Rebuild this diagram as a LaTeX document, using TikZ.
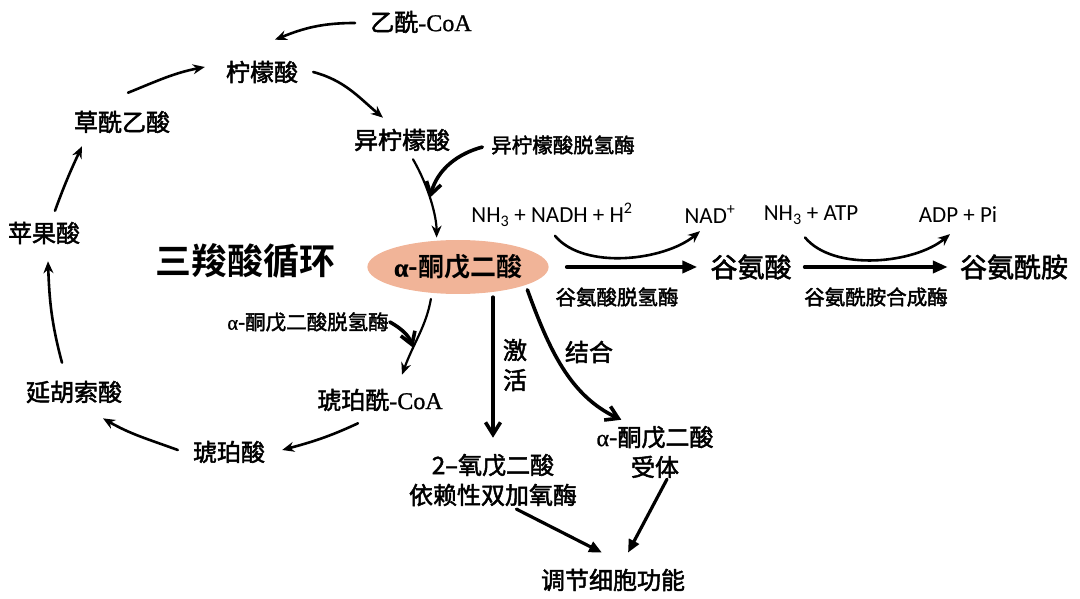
\documentclass[tikz,border=0pt]{standalone}
\usepackage{fontspec}
\usepackage{xcolor}
\usepackage{tikz}
\usetikzlibrary{arrows.meta,shapes.geometric}

\newfontfamily\cjk{Noto Sans CJK SC}[FakeBold=2]
\newfontfamily\cjkb{Noto Sans CJK SC Bold}
\newfontfamily\lat{Liberation Serif}[FakeBold=1]
\newfontfamily\chemfont{Carlito}
\definecolor{akgpink}{RGB}{241,180,152}

\begin{document}
\begin{tikzpicture}[x=1pt,y=1pt,line cap=round,
        every node/.style={inner sep=1pt,text=black,font=\cjk\fontsize{24}{30}\selectfont}]
    \tikzstyle{cycarrow}=[-{Stealth[length=12pt,width=10pt]},line width=2.6pt]
    \tikzstyle{enzarrow}=[-{Straight Barb[length=12pt,width=15pt]},line width=3.6pt]
    \tikzstyle{bigarrow}=[-{Triangle[length=15pt,width=12pt]},line width=3.8pt]
    \tikzstyle{sidearrow}=[-{Triangle[length=13pt,width=11pt]},line width=3.2pt]
    \tikzstyle{enzyme}=[font=\cjk\fontsize{20.5}{24}\selectfont]
    \tikzstyle{chem}=[font=\chemfont\fontsize{23}{26}\selectfont]

    \useasboundingbox (0,0) rectangle (1080,598);

    % TCA cycle
    \node (acoa) at (421,576) {乙酰{\lat -CoA}};
    \node (cit) at (262,526) {柠檬酸};
    \node (oaa) at (122,476) {草酰乙酸};
    \node (icit) at (402,458) {异柠檬酸};
    \node[enzyme] (idh) at (563,453) {异柠檬酸脱氢酶};
    \node (mal) at (44,365) {苹果酸};
    \node[font=\cjkb\fontsize{36}{40}\selectfont] (tca) at (245,337) {三羧酸循环};
    \node[ellipse,fill=akgpink,minimum width=154pt,minimum height=54pt,inner sep=0pt,
          font=\cjkb\fontsize{26}{30}\selectfont] (akg) at (458,331) {{\lat\bfseries α}-酮戊二酸};
    \node[enzyme] (kgdh) at (308,276) {{\lat α}-酮戊二酸脱氢酶};
    \node (scoa) at (380,198) {琥珀酰{\lat -CoA}};
    \node (fum) at (74,206) {延胡索酸};
    \node (suc) at (229,146) {琥珀酸};

    % glutamate / glutamine
    \node[chem] (nh3a) at (552,383) {NH\textsubscript{3} + NADH + H\textsuperscript{2}};
    \node[chem] (nad) at (710,383) {NAD\textsuperscript{+}};
    \node[chem] (nh3b) at (811,383) {NH\textsubscript{3} + ATP};
    \node[chem] (adp) at (958,383) {ADP + Pi};
    \node[font=\cjk\fontsize{27}{30}\selectfont] (glu) at (751,331) {谷氨酸};
    \node[font=\cjk\fontsize{27}{30}\selectfont] (gln) at (1014,331) {谷氨酰胺};
    \node[enzyme] (gdh) at (617,301) {谷氨酸脱氢酶};
    \node[enzyme] (gs) at (876,301) {谷氨酰胺合成酶};

    % signalling
    \node[align=center] (act) at (515,233) {激\\活};
    \node (bind) at (589,246) {结合};
    \node[align=center] (diox) at (493,118) {2–氧戊二酸\\依赖性双加氧酶};
    \node[align=center] (rec) at (655,146) {{\lat α}-酮戊二酸\\受体};
    \node (reg) at (613,18) {调节细胞功能};

    \draw[cycarrow] ([shift={(-14,-1)}]acoa.west) to[out=180,in=22] ([shift={(13,20)}]cit.north);
    \draw[cycarrow] ([shift={(6,17)}]oaa.north) to[out=22,in=191] ([shift={(-20,5)}]cit.west);
    \draw[cycarrow] ([shift={(14,0)}]cit.east) to[out=-15,in=140] ([shift={(-19,10)}]icit.north);
    \draw[cycarrow,line width=2.2pt,shorten >=3pt] ([shift={(11,-7)}]icit.south)
        to[out=-60,in=90,in looseness=0.7] coordinate[pos=0.45] (idhin) (akg.129);
    \draw[enzarrow,shorten <=8pt] (idh.west) to[out=195,in=75] (idhin);
    \draw[cycarrow,line width=2.2pt,shorten <=6pt] (akg.225)
        to[out=260,in=70] coordinate[pos=0.68] (kgdhin) ([shift={(22,13)}]scoa.north);
    \draw[enzarrow] (kgdh.east) to[out=-30,in=110] (kgdhin);
    \draw[cycarrow] ([shift={(-22,-11)}]scoa.south) to[out=205,in=15] ([shift={(16,2)}]suc.east);
    \draw[cycarrow] ([shift={(-14,2)}]suc.west) to[out=160,in=-30] ([shift={(29,-14)}]fum.south);
    \draw[cycarrow] ([shift={(-12,17)}]fum.north) to[out=105,in=-88] ([shift={(4,-16)}]mal.south);
    \draw[cycarrow] ([shift={(11,10)}]mal.north) to[out=70,in=-115] ([shift={(-40,-12)}]oaa.south);

    \draw[bigarrow,shorten <=18pt,shorten >=12pt] (akg) -- (glu);
    \draw[bigarrow,shorten <=12pt,shorten >=11pt] (glu) -- (gln);
    \draw[cycarrow] ([shift={(3,-8)}]nh3a.south) to[out=-50,in=-140,looseness=0.8] ([shift={(-10,-6)}]nad.south);
    \draw[cycarrow] ([shift={(-6,-12)}]nh3b.south) to[out=-50,in=-140,looseness=0.8] ([shift={(-8,-10)}]adp.south);

    \draw[enzarrow,shorten <=3pt,shorten >=15pt] (akg.south -| diox.north) -- (diox.north);
    \draw[enzarrow,shorten <=5pt,shorten >=12pt] (akg.345) to[out=-70,in=155] (rec.130);
    \draw[sidearrow,shorten <=4pt] (diox.306) -- ([shift={(-11,15)}]reg.north);
    \draw[sidearrow] ([shift={(12,0)}]rec.south) -- ([shift={(15,15)}]reg.north);
\end{tikzpicture}
\end{document}
